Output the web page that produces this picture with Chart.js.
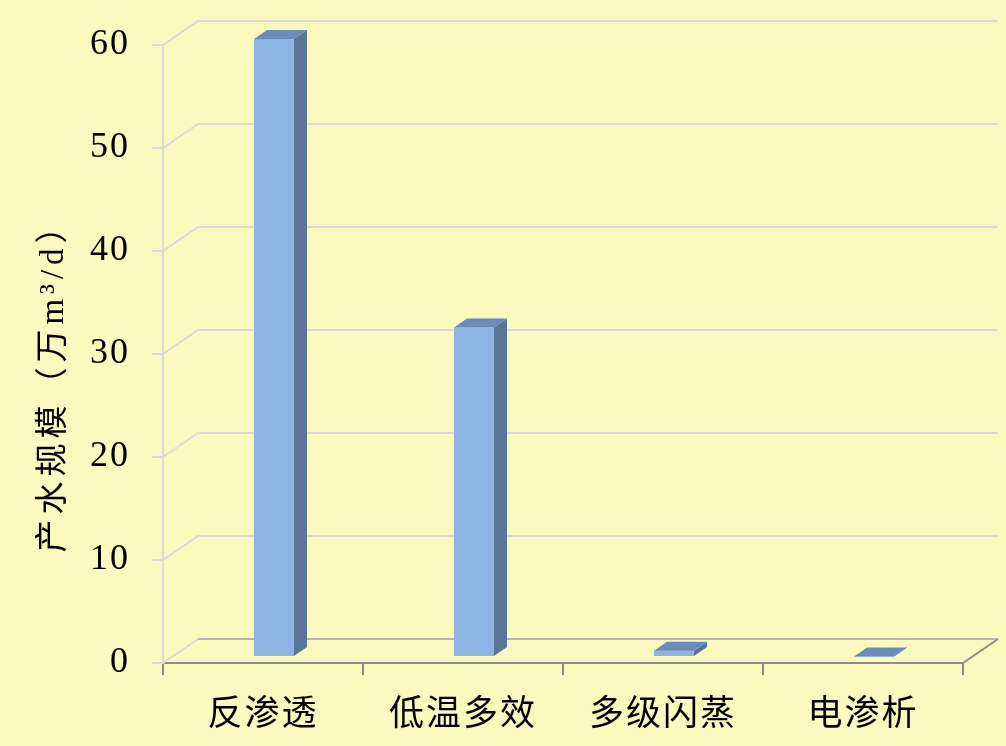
<!DOCTYPE html>
<html>
<head>
<meta charset="utf-8">
<script src="https://cdn.jsdelivr.net/npm/chart.js@4"></script>
<style>
  body { margin: 0; background: #FAFABE; }
  canvas { display: block; }
</style>
</head>
<body>
<canvas id="chart" width="1006" height="746"></canvas>
<script>
const categories = ['反渗透', '低温多效', '多级闪蒸', '电渗析'];
const capacity = [60, 32, 0.6, 0.05];
const yTicks = [0, 10, 20, 30, 40, 50, 60];
const yTitle = '产水规模（万m³/d）';

const WALL_DX = 35, WALL_DY = 24;   // back wall offset
const BAR_DX = 11, BAR_DY = 6;      // bar plane offset from front axis
const DEPTH_DX = 13, DEPTH_DY = 9;  // bar depth

const serif = '"Liberation Serif", "Noto Sans CJK SC", serif';

const wallPlugin = {
    id: 'wall',
    beforeDraw(chart) {
        const ctx = chart.ctx;
        ctx.save();
        ctx.fillStyle = '#FAFABE';
        ctx.fillRect(0, 0, chart.width, chart.height);
        ctx.restore();
        chart.ctx.letterSpacing = '2px';
    },
    beforeDatasetsDraw(chart) {
        const ctx = chart.ctx;
        const area = chart.chartArea;
        const y = chart.scales.y;
        ctx.save();
        ctx.lineWidth = 2;
        yTicks.forEach(v => {
            const py = y.getPixelForValue(v);
            ctx.strokeStyle = '#D9D9D9';
            ctx.beginPath();
            ctx.moveTo(area.left, py);
            ctx.lineTo(area.left + WALL_DX, py - WALL_DY);
            if (v !== 0) ctx.lineTo(area.right + WALL_DX, py - WALL_DY);
            ctx.stroke();
            if (v === 0) {
                ctx.strokeStyle = '#B4B4B4';
                ctx.beginPath();
                ctx.moveTo(area.left + WALL_DX, py - WALL_DY);
                ctx.lineTo(area.right + WALL_DX, py - WALL_DY);
                ctx.stroke();
                ctx.strokeStyle = '#8C8C8C';
                ctx.beginPath();
                ctx.moveTo(area.right, py);
                ctx.lineTo(area.right + WALL_DX, py - WALL_DY);
                ctx.stroke();
            }
        });
        ctx.restore();
        // bars sit a bit behind the front axis
        ctx.save();
        ctx.translate(BAR_DX, -BAR_DY);
    },
    afterDatasetsDraw(chart) {
        const ctx = chart.ctx;
        chart.getDatasetMeta(0).data.forEach(bar => {
            const p = bar.getProps(['x', 'y', 'base', 'width'], true);
            const l = p.x - p.width / 2, r = p.x + p.width / 2;
            // side
            ctx.fillStyle = '#5B7596';
            ctx.beginPath();
            ctx.moveTo(r, p.y);
            ctx.lineTo(r + DEPTH_DX, p.y - DEPTH_DY);
            ctx.lineTo(r + DEPTH_DX, p.base - DEPTH_DY);
            ctx.lineTo(r, p.base);
            ctx.closePath();
            ctx.fill();
            // top
            ctx.fillStyle = '#6B8BB9';
            ctx.beginPath();
            ctx.moveTo(l, p.y);
            ctx.lineTo(l + DEPTH_DX, p.y - DEPTH_DY);
            ctx.lineTo(r + DEPTH_DX, p.y - DEPTH_DY);
            ctx.lineTo(r, p.y);
            ctx.closePath();
            ctx.fill();
        });
        ctx.restore();
    },
    afterDraw(chart) {
        const ctx = chart.ctx;
        const area = chart.chartArea;
        ctx.save();
        ctx.letterSpacing = '5px';
        ctx.fillStyle = '#000';
        ctx.font = '33px ' + serif;
        ctx.textAlign = 'center';
        ctx.textBaseline = 'middle';
        ctx.translate(54, (area.top + area.bottom) / 2 + 25);
        ctx.rotate(-Math.PI / 2);
        ctx.fillText(yTitle, 0, 0);
        ctx.restore();
    }
};

new Chart(document.getElementById('chart'), {
    type: 'bar',
    data: {
        labels: categories,
        datasets: [{
            data: capacity,
            backgroundColor: '#8DB4E2',
            borderWidth: 0,
            categoryPercentage: 1,
            barPercentage: 0.2,
            clip: false
        }]
    },
    options: {
        responsive: false,
        animation: false,
        layout: { padding: { left: 0, top: 45, right: 43, bottom: 0 } },
        plugins: {
            legend: { display: false },
            tooltip: { enabled: false }
        },
        scales: {
            x: {
                afterFit: s => { s.height = 83; },
                grid: {
                    offset: true,
                    drawOnChartArea: false,
                    tickLength: 12,
                    color: '#8C8C8C',
                    lineWidth: 2
                },
                border: { color: '#8C8C8C', width: 2 },
                ticks: {
                    color: '#000',
                    padding: 20,
                    maxRotation: 0,
                    font: { family: serif, size: 35 }
                }
            },
            y: {
                min: 0,
                max: 60,
                afterFit: s => { s.width = 163; },
                afterBuildTicks: s => { s.ticks = yTicks.map(v => ({ value: v })); },
                grid: {
                    drawOnChartArea: false,
                    tickLength: 11,
                    color: '#D9D9D9',
                    lineWidth: 2
                },
                border: { color: '#D9D9D9', width: 2 },
                ticks: {
                    color: '#000',
                    padding: 22,
                    font: { family: serif, size: 36 }
                }
            }
        }
    },
    plugins: [wallPlugin]
});
</script>
</body>
</html>
